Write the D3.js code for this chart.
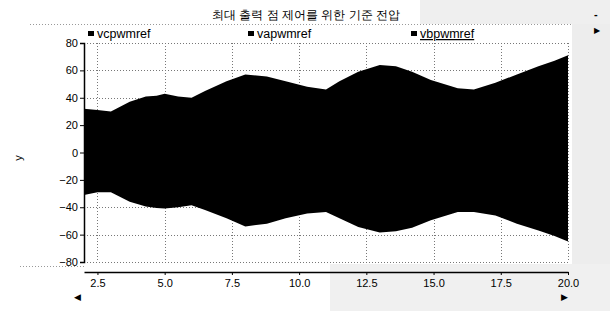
<!DOCTYPE html>
<html>
<head>
<meta charset="utf-8">
<script src="https://cdn.jsdelivr.net/npm/d3@7"></script>
<style>
  body { margin: 0; background: #fff; }
  text { font-family: "Liberation Sans", Arial, sans-serif; }
</style>
</head>
<body>
<div id="chart"></div>
<script>
var titleText = "최대 출력 점 제어를 위한 기준 전압";
var seriesNames = ["vcpwmref", "vapwmref", "vbpwmref"];

// envelope of the three fast sine signals (time, upper peak, lower peak)
var tVals = [2.0, 2.5, 3.0, 3.7, 4.3, 4.7, 5.0, 5.5, 6.0, 6.5, 7.3, 8.0, 8.8, 9.5, 10.3,
             11.0, 11.5, 12.2, 13.0, 13.6, 14.2, 14.9, 15.9, 16.5, 17.3, 18.1, 18.9, 19.5, 20.0];
var upperVals = [32, 31, 30, 37, 41, 41.5, 43, 41, 40, 45, 52, 57, 55.5, 52, 48,
                 46, 52, 59, 64, 63, 59, 53, 47, 46, 51, 57, 63, 67, 71];
var lowerVals = [-31, -29, -29, -36, -39.5, -40.5, -41, -40, -38.5, -42, -48, -54, -52, -48, -44.5,
                 -43.4, -48, -54.5, -58.5, -57.5, -55, -49.5, -43.5, -43.5, -46, -52, -57, -61, -65];

var xTicks = [2.5, 5.0, 7.5, 10.0, 12.5, 15.0, 17.5, 20.0];
var yTicks = [-80, -60, -40, -20, 0, 20, 40, 60, 80];

var W = 610, H = 311;
var plot = { left: 84, right: 568, top: 43, bottom: 262 };

var svg = d3.select("#chart").append("svg")
    .attr("width", W)
    .attr("height", H);

// scanned grey background bits
svg.append("rect").attr("x", 572).attr("y", 0).attr("width", 38).attr("height", H).attr("fill", "#ededed");
svg.append("rect").attr("x", 330).attr("y", 264).attr("width", 280).attr("height", 47).attr("fill", "#f0f0f0");
svg.append("rect").attr("x", 420).attr("y", 0).attr("width", 190).attr("height", 24).attr("fill", "#efefef");

var x = d3.scaleLinear().domain([2.0, 20.0]).range([plot.left, plot.right]);
var y = d3.scaleLinear().domain([-80, 80]).range([plot.bottom, plot.top]);

svg.append("rect")
    .attr("x", plot.left).attr("y", plot.top)
    .attr("width", plot.right - plot.left).attr("height", plot.bottom - plot.top)
    .attr("fill", "#fff");

// grid
var grid = svg.append("g").attr("stroke", "#777").attr("stroke-width", 1).attr("stroke-dasharray", "1,2");
yTicks.forEach(function (d) {
    grid.append("line")
        .attr("x1", plot.left).attr("x2", plot.right)
        .attr("y1", Math.round(y(d)) + 0.5).attr("y2", Math.round(y(d)) + 0.5);
});
xTicks.forEach(function (d) {
    grid.append("line")
        .attr("x1", Math.round(x(d)) + 0.5).attr("x2", Math.round(x(d)) + 0.5)
        .attr("y1", plot.top).attr("y2", plot.bottom);
});

// signal envelope
var area = d3.area()
    .x(function (d, i) { return x(tVals[i]); })
    .y0(function (d, i) { return y(lowerVals[i]); })
    .y1(function (d, i) { return y(upperVals[i]); });

svg.append("path")
    .datum(tVals)
    .attr("d", area)
    .attr("fill", "#000");

// y axis
var yAxis = svg.append("g")
    .attr("transform", "translate(" + plot.left + ",0)")
    .call(d3.axisLeft(y).tickValues(yTicks).tickSize(4).tickSizeOuter(4).tickFormat(d3.format("d")));
yAxis.select(".domain").attr("stroke", "#000").attr("stroke-width", 1.5);
yAxis.selectAll("text").attr("font-size", 11).attr("fill", "#000").attr("x", -6);

// x axis
var xAxis = svg.append("g")
    .attr("transform", "translate(0,272)")
    .call(d3.axisBottom(x).tickValues(xTicks).tickSize(3).tickSizeOuter(0).tickFormat(d3.format(".1f")));
xAxis.select(".domain").attr("stroke", "#000").attr("stroke-width", 1.5);
xAxis.selectAll("text").attr("font-size", 11).attr("fill", "#000").attr("dy", "0.85em");

// title
svg.append("text")
    .attr("x", 306).attr("y", 19)
    .attr("text-anchor", "middle")
    .attr("font-size", 12)
    .attr("font-family", "'Noto Sans CJK KR', sans-serif")
    .text(titleText);

// separators
svg.append("line").attr("x1", 30).attr("x2", 572).attr("y1", 24.5).attr("y2", 24.5)
    .attr("stroke", "#999").attr("stroke-dasharray", "1,2");
svg.append("line").attr("x1", 20).attr("x2", 84).attr("y1", 266.5).attr("y2", 266.5)
    .attr("stroke", "#999").attr("stroke-dasharray", "1,2");

// legend
var legendX = [88, 248, 411];
seriesNames.forEach(function (name, i) {
    var g = svg.append("g").attr("transform", "translate(" + legendX[i] + ",34)");
    g.append("rect").attr("x", 0).attr("y", -3).attr("width", 6).attr("height", 5).attr("fill", "#000");
    var t = g.append("text").attr("x", 9).attr("y", 4).attr("font-size", 12.5).text(name);
    if (i === 2) t.attr("text-decoration", "underline");
});

// axis title
svg.append("text")
    .attr("transform", "translate(22,158) rotate(-90)")
    .attr("text-anchor", "middle")
    .attr("font-size", 11)
    .text("y");

// scroll arrows and window controls
svg.append("text").attr("x", 74).attr("y", 300).attr("font-size", 9).text("◀");
svg.append("text").attr("x", 561).attr("y", 300).attr("font-size", 9).text("▶");
svg.append("text").attr("x", 594).attr("y", 33).attr("font-size", 8).text("▶");
svg.append("text").attr("x", 594).attr("y", 18).attr("font-size", 11).attr("font-weight", "bold").text("-");
</script>
</body>
</html>
